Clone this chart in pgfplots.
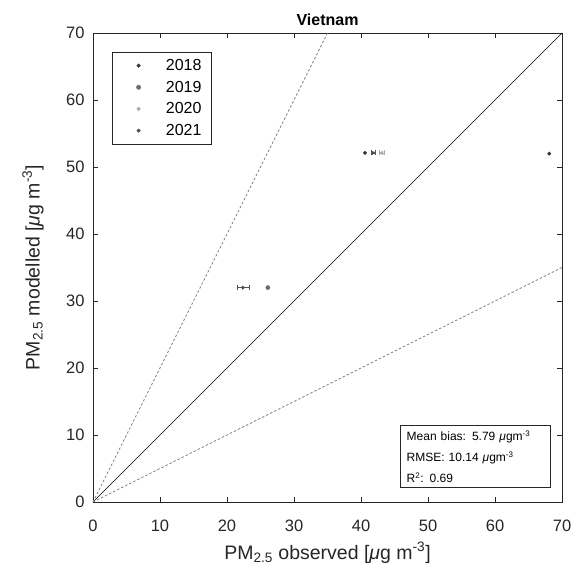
\documentclass[border=0pt]{standalone}
\usepackage{pgfplots}
\pgfplotsset{compat=1.18}
\usepackage{fontspec}
\setmainfont{Liberation Sans}
\definecolor{c2018}{HTML}{333333}
\definecolor{c2019}{HTML}{6E6E6E}
\definecolor{c2020}{HTML}{AAAAAA}
\definecolor{c2021}{HTML}{505050}
\definecolor{axc}{HTML}{262626}
\begin{document}
\begin{tikzpicture}
\begin{axis}[
  scale only axis,
  width=469pt, height=469pt,
  xmin=0, xmax=70, ymin=0, ymax=70,
  xtick={0,10,...,70}, ytick={0,10,...,70},
  tick align=inside,
  major tick length=5pt,
  axis line style={axc, line width=0.6pt},
  every tick/.style={axc, line width=0.6pt},
  tick label style={font=\fontsize{16.5}{18}\selectfont, text=axc},
  xticklabel style={anchor=center, yshift=-24pt},
  yticklabel style={xshift=-5pt},
  /pgf/number format/assume math mode=true,
  title={\bfseries Vietnam},
  title style={font=\fontsize{16}{18}\selectfont\bfseries, yshift=-2pt},
  xlabel={PM\textsubscript{2.5} observed [\textit{μ}g m\textsuperscript{-3}]},
  ylabel={PM\textsubscript{2.5} modelled [\textit{μ}g m\textsuperscript{-3}]},
  label style={font=\fontsize{19.5}{21}\selectfont, text=axc},
  xlabel style={at={(axis description cs:0.5,0)}, anchor=center, yshift=-51pt},
  ylabel style={at={(axis description cs:0,0.5)}, anchor=center, yshift=60pt},
  every axis plot post/.append style={legend image code/.code={\path (0pt,0pt) (30pt,0pt); \draw[##1] plot coordinates {(18pt,0pt)};}},
  legend style={at={(0,1)}, anchor=north west, xshift=19pt, yshift=-19pt,
    font=\fontsize{16}{18}\selectfont, draw=axc, line width=0.6pt,
    inner xsep=8pt, inner ysep=5pt, row sep=5pt,
    /tikz/every odd column/.append style={column sep=13pt}},
  legend cell align=left,
  clip=false,
]
% reference lines
\addplot[black, line width=0.7pt, forget plot] coordinates {(0,0) (70,70)};
\addplot[gray, line width=0.7pt, dash pattern=on 2.5pt off 2pt, forget plot] coordinates {(0,0) (35,70)};
\addplot[gray, line width=0.7pt, dash pattern=on 2.5pt off 2pt, forget plot] coordinates {(0,0) (70,35)};
% 2018
\addplot[only marks, mark=*, mark size=1.7pt, color=c2018] coordinates {(40.6,52.1) (68.1,52.0)};
% 2019
\addplot[only marks, mark=*, mark size=2.1pt, color=c2019] coordinates {(26.1,32.0)};
% 2020
\addplot[only marks, mark=triangle*, mark options={rotate=90}, mark size=2.1pt, color=c2020,
  legend image post style={mark=*, mark size=1.7pt, mark options={rotate=0}},
  error bars/.cd, x dir=both, x explicit, error bar style={c2020, line width=0.6pt}, error mark options={rotate=90, mark size=2.5pt, c2020}]
  coordinates {(43.1,52.1) +- (0.4,0)};
% 2021
\addplot[only marks, mark=triangle*, mark options={rotate=-90}, mark size=2.1pt, color=c2021,
  legend image post style={mark=*, mark size=1.7pt, mark options={rotate=0}},
  error bars/.cd, x dir=both, x explicit, error bar style={c2021, line width=0.6pt}, error mark options={rotate=90, mark size=2.5pt, c2021}]
  coordinates {(41.8,52.1) +- (0.3,0) (22.4,32.0) +- (0.9,0)};
\legend{2018,2019,2020,2021}
\node[draw=axc, line width=0.6pt, anchor=south east, fill=white, align=left,
  font=\fontsize{12}{21}\selectfont, inner xsep=6pt, inner ysep=5pt, text width=138pt]
  at ([xshift=-11pt, yshift=14pt]rel axis cs:1,0)
  {Mean bias: 5.79 \textit{μ}gm\textsuperscript{-3}\\
   RMSE: 10.14 \textit{μ}gm\textsuperscript{-3}\\
   R\textsuperscript{2}: 0.69};
\path ([xshift=-93pt, yshift=-75pt]rel axis cs:0,0) -- ([xshift=20pt, yshift=33pt]rel axis cs:1,1);
\end{axis}
\end{tikzpicture}
\end{document}
